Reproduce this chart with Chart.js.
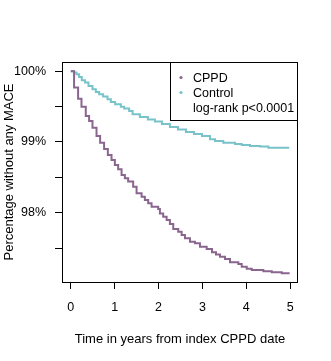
<!DOCTYPE html>
<html><head><meta charset="utf-8">
<script src="https://cdn.jsdelivr.net/npm/chart.js@4/dist/chart.umd.min.js"></script>
<style>html,body{margin:0;padding:0;background:#fff}#wrap{width:331px;height:361px}</style>
</head><body><div id="wrap"><canvas id="c" width="331" height="361"></canvas></div>
<script>
const cppdTime = [0,0.075,0.167,0.244,0.342,0.418,0.495,0.587,0.669,0.760,0.845,0.929,1.005,1.08,1.158,1.233,1.308,1.422,1.5,1.614,1.689,1.765,1.842,1.993,2.032,2.107,2.185,2.26,2.336,2.45,2.527,2.603,2.717,2.831,2.945,3.098,3.22,3.31,3.402,3.516,3.63,3.82,3.897,4.011,4.126,4.39,4.582,4.81,4.99];
const cppdSurv = [100,99.768,99.612,99.499,99.368,99.297,99.202,99.085,98.990,98.90,98.816,98.745,98.675,98.614,98.533,98.487,98.44,98.368,98.274,98.226,98.18,98.133,98.085,98.052,97.99,97.943,97.897,97.84,97.77,97.731,97.685,97.638,97.59,97.567,97.519,97.487,97.44,97.41,97.378,97.345,97.298,97.274,97.236,97.208,97.19,97.171,97.157,97.143,97.143];
const ctrlTime = [0,0.075,0.13,0.19,0.251,0.326,0.404,0.495,0.571,0.646,0.737,0.838,0.913,1.011,1.142,1.217,1.331,1.409,1.575,1.758,1.918,2.078,2.26,2.443,2.626,2.808,2.991,3.174,3.288,3.477,3.744,3.897,4.087,4.315,4.505,4.98];
const ctrlSurv = [100,99.98,99.958,99.919,99.873,99.839,99.792,99.745,99.707,99.675,99.641,99.604,99.566,99.533,99.499,99.471,99.438,99.392,99.354,99.318,99.29,99.255,99.212,99.177,99.141,99.113,99.085,99.038,99.014,98.99,98.972,98.958,98.943,98.934,98.919,98.919];
const xTicks = [0,1,2,3,4,5];
const yTicks = [97.5,98,98.5,99,99.5,100];
const yLabels = {98:'98%',99:'99%',100:'100%'};
const seriesNames = ['CPPD','Control'];
const legendNote = 'log-rank p<0.0001';
const xTitle = 'Time in years from index CPPD date';
const yTitle = 'Percentage without any MACE';

const COL_CPPD = '#8a668e', COL_CTRL = '#78c3c9';
const FONT = 'Liberation Sans, Arial, sans-serif';

const toPts = (t, s) => t.map((v, i) => ({x: v, y: s[i]}));

const boxPlugin = {
  id: 'box',
  afterDraw(chart) {
    const {ctx, chartArea: a} = chart;
    ctx.save();
    ctx.strokeStyle = '#000'; ctx.lineWidth = 1;
    ctx.strokeRect(Math.round(a.left)+0.5, Math.round(a.top)+0.5, Math.round(a.right-a.left)-1, Math.round(a.bottom-a.top));
    const lx = 170.5, ly = a.top + 0.5, lw = a.right - 170.5 - 0.5, lh = 58;
    ctx.strokeRect(lx, ly, lw, lh);
    ctx.font = '12.5px ' + FONT; ctx.textBaseline = 'middle'; ctx.textAlign = 'left';
    const cols = [COL_CPPD, COL_CTRL];
    const ys = [78.5, 93.5, 108.5];
    for (let i = 0; i < 2; i++) {
      ctx.fillStyle = cols[i];
      ctx.beginPath(); ctx.arc(181, ys[i]-1, 1.6, 0, Math.PI*2); ctx.fill();
      ctx.fillStyle = '#000';
      ctx.fillText(seriesNames[i], 193, ys[i]);
    }
    ctx.fillText(legendNote, 193, ys[2]);
    ctx.restore();
  }
};

new Chart(document.getElementById('c'), {
  type: 'line',
  data: {
    datasets: [
      {label: seriesNames[0], data: toPts(cppdTime, cppdSurv), borderColor: COL_CPPD, borderWidth: 2, stepped: 'before', pointRadius: 0, fill: false},
      {label: seriesNames[1], data: toPts(ctrlTime, ctrlSurv), borderColor: COL_CTRL, borderWidth: 2, stepped: 'before', pointRadius: 0, fill: false}
    ]
  },
  options: {
    responsive: false, animation: false,
    layout: {padding: {top: 62, right: 33, left: 0, bottom: 0}},
    plugins: {legend: {display: false}, tooltip: {enabled: false}},
    scales: {
      x: {
        type: 'linear', min: -0.2, max: 5.18,
        afterBuildTicks(s) { s.ticks = xTicks.map(v => ({value: v})); },
        afterFit(s) { s.height = 79; },
        grid: {drawOnChartArea: false, drawTicks: true, tickLength: 7, color: '#000', tickColor: '#000'},
        border: {display: false},
        ticks: {color: '#000', font: {family: FONT, size: 12.5}, padding: 11, maxRotation: 0, callback: v => String(v)},
        title: {display: true, text: xTitle, color: '#000', font: {family: FONT, size: 13}, padding: {top: 0, bottom: 14}}
      },
      y: {
        type: 'linear', min: 97.02, max: 100.13,
        afterBuildTicks(s) { s.ticks = yTicks.map(v => ({value: v})); },
        afterFit(s) { s.width = 62; },
        grid: {drawOnChartArea: false, drawTicks: true, tickLength: 7, color: '#000', tickColor: '#000'},
        border: {display: false},
        ticks: {color: '#000', font: {family: FONT, size: 12.5}, padding: 9, callback: v => yLabels[v] || ''},
        title: {display: true, text: yTitle, color: '#000', font: {family: FONT, size: 13}, padding: {top: 2, bottom: 0}}
      }
    }
  },
  plugins: [boxPlugin]
});
</script></body></html>
